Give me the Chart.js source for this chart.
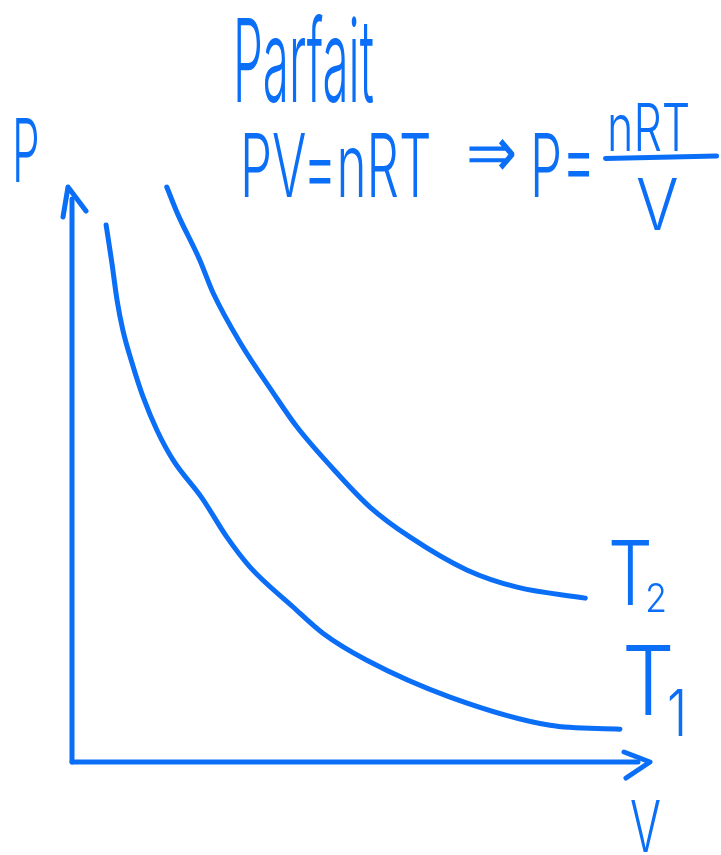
<!DOCTYPE html>
<html>
<head>
<meta charset="utf-8">
<script src="https://cdn.jsdelivr.net/npm/chart.js@4.4.1/dist/chart.umd.min.js"></script>
<style>
  html, body { margin: 0; padding: 0; background: #fff; }
  #wrap { position: relative; width: 721px; height: 855px; overflow: hidden; }
  #chart { position: absolute; left: 0; top: 0; }
  .hand {
    position: absolute;
    color: #0b6ef7;
    font-family: "Inter", "DejaVu Sans", sans-serif;
    font-weight: 350;
    line-height: 1;
    white-space: nowrap;
    transform-origin: 0 0;
  }
  .bar { position: absolute; background: #0b6ef7; height: 5px; border-radius: 3px; transform-origin: 0 0; }
</style>
</head>
<body>
<div id="wrap">
  <canvas id="chart" width="721" height="855"></canvas>

  <!-- titre et formule -->
  <span class="hand" style="left:233px; top:2px; font-size:116px; transform:scaleX(0.41)">Parfait</span>
  <span class="hand" style="left:240px; top:121px; font-size:88px; transform:scaleX(0.58)">PV=nRT</span>
  <span class="hand" style="left:466px; top:116px; font-size:72px; font-family:'DejaVu Sans'; transform:scaleX(0.85)">⇒</span>
  <span class="hand" style="left:530px; top:121px; font-size:88px; transform:scaleX(0.58)">P=</span>
  <span class="hand" style="left:607px; top:94px; font-size:66px; transform:scaleX(0.68)">nRT</span>
  <div class="bar" style="left:603px; top:156px; width:116px; transform:rotate(-1.2deg)"></div>
  <span class="hand" style="left:636px; top:168px; font-size:72px; transform:scaleX(0.88)">V</span>

  <!-- axes -->
  <span class="hand" style="left:12px; top:106px; font-size:88px; transform:scaleX(0.5)">P</span>
  <span class="hand" style="left:630px; top:790px; font-size:72px; transform:scaleX(0.64)">V</span>

  <!-- isothermes -->
  <span class="hand" style="left:608px; top:528px; font-size:90px; transform:scaleX(0.78)">T</span>
  <span class="hand" style="left:645px; top:578px; font-size:40px; transform:scaleX(0.9)">2</span>
  <span class="hand" style="left:622px; top:632px; font-size:96px; transform:scaleX(0.86)">T</span>
  <span class="hand" style="left:667px; top:681px; font-size:64px; transform:scaleX(0.8)">1</span>
</div>

<script>
// Isothermes P = nRT / V relevées à la main (unités arbitraires)
const volumeT1 = [0.59, 0.69, 0.78, 0.88, 1.06, 1.23, 1.47, 1.75, 2.25, 2.68, 3.08, 3.82, 4.34, 5.10, 6.54, 8.27, 9.48];
const pressionT1 = [9.34, 8.68, 8.03, 7.51, 6.87, 6.35, 5.77, 5.25, 4.59, 3.91, 3.39, 2.70, 2.24, 1.77, 1.13, 0.64, 0.57];

const volumeT2 = [1.64, 1.82, 2.21, 2.44, 2.91, 3.48, 3.89, 4.58, 5.16, 5.85, 6.83, 7.70, 8.88];
const pressionT2 = [10.0, 9.55, 8.73, 8.16, 7.29, 6.42, 5.83, 5.03, 4.43, 3.91, 3.34, 3.04, 2.85];

const axeMax = 10;
const bleu = '#0b6ef7';

function toPoints(xs, ys) {
    return xs.map((v, i) => ({ x: v, y: ys[i] }));
}

// Axes P et V dessinés à la main avec leurs flèches
const axesFleches = {
    id: 'axesFleches',
    afterDatasetsDraw(chart) {
        const ctx = chart.ctx;
        const sx = chart.scales.x;
        const sy = chart.scales.y;
        const x0 = sx.getPixelForValue(0);
        const y0 = sy.getPixelForValue(0);
        const xEnd = sx.getPixelForValue(axeMax);
        const yEnd = sy.getPixelForValue(axeMax);

        ctx.save();
        ctx.strokeStyle = bleu;
        ctx.lineWidth = 5;
        ctx.lineCap = 'round';
        ctx.lineJoin = 'round';

        // axe vertical
        ctx.beginPath();
        ctx.moveTo(x0, y0);
        ctx.lineTo(x0, yEnd + 12);
        ctx.stroke();
        ctx.beginPath();
        ctx.moveTo(x0 - 9, yEnd + 30);
        ctx.lineTo(x0 - 4, yEnd);
        ctx.lineTo(x0 + 14, yEnd + 24);
        ctx.stroke();

        // axe horizontal
        ctx.beginPath();
        ctx.moveTo(x0, y0);
        ctx.lineTo(xEnd - 12, y0);
        ctx.stroke();
        ctx.beginPath();
        ctx.moveTo(xEnd - 26, y0 - 10);
        ctx.lineTo(xEnd, y0);
        ctx.lineTo(xEnd - 24, y0 + 16);
        ctx.stroke();
        ctx.restore();
    }
};

const ctx = document.getElementById('chart').getContext('2d');
const chart = new Chart(ctx, {
    type: 'scatter',
    data: {
        datasets: [
            {
                label: 'T1',
                data: toPoints(volumeT1, pressionT1),
                showLine: true,
                borderColor: bleu,
                borderWidth: 5,
                pointRadius: 0,
                cubicInterpolationMode: 'monotone',
                borderCapStyle: 'round',
                clip: false
            },
            {
                label: 'T2',
                data: toPoints(volumeT2, pressionT2),
                showLine: true,
                borderColor: bleu,
                borderWidth: 5,
                pointRadius: 0,
                cubicInterpolationMode: 'monotone',
                borderCapStyle: 'round',
                clip: false
            }
        ]
    },
    options: {
        responsive: false,
        animation: false,
        layout: { padding: { left: 72, right: 71, top: 187, bottom: 93 } },
        plugins: {
            legend: { display: false },
            tooltip: { enabled: false }
        },
        scales: {
            x: { type: 'linear', min: 0, max: axeMax, display: false },
            y: { type: 'linear', min: 0, max: axeMax, display: false }
        }
    },
    plugins: [axesFleches]
});
</script>
</body>
</html>
